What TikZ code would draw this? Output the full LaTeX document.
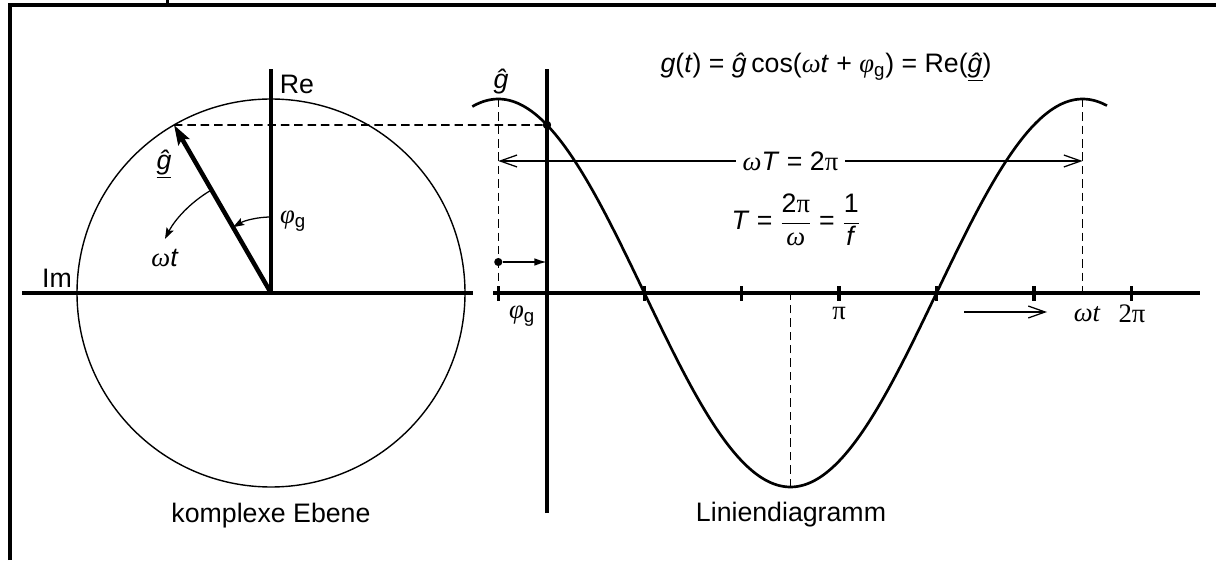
\documentclass[tikz,border=0pt]{standalone}
\usepackage{fontspec}
\setmainfont{Liberation Sans}
\newfontfamily\serifgr{Liberation Serif}
\usetikzlibrary{
    arrows.meta,
    calc
}
\newcommand{\vom}{{\serifgr\itshape ω}}
\newcommand{\vphi}{{\serifgr\itshape φ}}
\newcommand{\vphig}{\vphi\textsubscript{g}}
\newcommand{\vpi}{{\serifgr π}}

\begin{document}
\begin{tikzpicture}[
    x=0.025cm, y=0.025cm,
    line cap=butt, line join=miter,
    %% --- semantic styles ---
    frame/.style      = {draw=black, line width=3pt},
    axisline/.style   = {draw=black, line width=2.4pt},
    thinline/.style   = {draw=black, line width=1pt},
    waveline/.style   = {draw=black, line width=1.9pt},
    guide/.style      = {draw=black, line width=1.1pt, dash pattern=on 6pt off 3.5pt},
    tickmark/.style   = {draw=black, line width=2.4pt},
    phasor/.style     = {draw=black, line width=3.2pt,
                         -{Stealth[length=14pt, width=9pt, inset=2.5pt]}},
    anglearrow/.style = {draw=black, line width=0.9pt,
                         -{Stealth[length=8pt, width=5.5pt, inset=1.5pt]}},
    shiftarrow/.style = {draw=black, line width=1.3pt,
                         -{Latex[length=9pt, width=5.5pt]}},
    dimline/.style    = {draw=black, line width=0.9pt,
                         {Straight Barb[length=12pt, width=8.5pt]}-{Straight Barb[length=12pt, width=8.5pt]}},
    timearrow/.style  = {draw=black, line width=0.9pt,
                         -{Straight Barb[length=12pt, width=8.5pt]}},
    dot/.style        = {circle, fill=black, inner sep=0pt, minimum size=5.8pt},
    lbl/.style        = {inner sep=0pt, font=\fontsize{19}{22}\selectfont}
]
\useasboundingbox (0,0) rectangle (1216,560);

%% =====================================================
%% Frame (cut by the page on the right and bottom)
%% =====================================================
\draw[frame] (10.3,0) |- (1220,555);
\draw[frame, line width=2.2pt] (167.3,555) -- (167.3,562);

%% =====================================================
%% Complex plane
%% =====================================================
\coordinate (O) at (271,267);
\coordinate (P) at ($(O)+(120:194)$);

\draw[thinline] (O) circle[radius=194];
\draw[axisline] (22,267) -- (473,267);
\draw[axisline] (O) -- (271,491);

\node[lbl] (ReLbl) at (297,476) {Re};
\node[lbl] (ImLbl) at (57,282) {Im};

% rotating phasor
\draw[phasor] (O) -- (P);
\node[lbl] (gUl) at (164,396) {\underline{\textit{ĝ}}};

% angles
\draw[anglearrow] ($(O)+(90:76)$) arc[start angle=90, end angle=120, radius=76];
\node[lbl] (phiLbl) at (293,339) {\vphig};
\draw[anglearrow] ($(O)+(121:119)$) arc[start angle=121, end angle=153, radius=119];
\node[lbl] (omtLbl) at (165,302) {\vom\textit{t}};

\node[lbl, anchor=base] (ceLbl) at (271,38) {komplexe Ebene};

%% =====================================================
%% Line diagram
%% =====================================================
\coordinate (T0)  at (547,267);
\coordinate (Pk1) at (498.3,461);
\coordinate (Pk2) at (1082.6,461);
\coordinate (Tr)  at (790.5,73);

% guides
\node[dot] (D1) at (547,435) {};
\node[dot] (D2) at (498.3,298) {};
\draw[guide] (P) -- (D1);
\draw[guide] (Pk1) -- (Pk1 |- T0);
\draw[guide] (Pk2) -- (Pk2 |- T0);
\draw[guide] (Tr) -- (Tr |- T0);

% axes and ticks
\draw[axisline] (493,267) -- (1200,267);
\draw[axisline] (547,47) -- (547,491);
\foreach \k in {-30,60,120,180,240,300,360}
    \draw[tickmark] ({547+1.623*\k},259) -- ++(0,15);

% wave
\draw[waveline] plot[domain=-46:345, samples=140, smooth]
    ({547+1.623*\x},{267+194*cos(\x+30)});

\node[dot] at (D1) {};
\draw[shiftarrow] (D2) -- (D2 -| T0);

% period
\coordinate (W1) at (498.3,399);
\coordinate (W2) at (1082.6,399);
\draw[dimline] (W1) -- node[lbl, fill=white, inner xsep=5pt, inner ysep=2pt]
    (wTLbl) {\vom\textit{T} = 2\vpi} (W2);
\node[lbl] (TLbl) at (796,340)
    {\textit{T} = $\displaystyle\frac{\mbox{2\vpi}}{\mbox{\vom}}$ = $\displaystyle\frac{\mbox{1}}{\mbox{\textit{f}}}$};

% labels
\node[lbl, anchor=base] (gFormula) at (826,487)
    {\textit{g}(\textit{t}) = \textit{ĝ}\,cos(\vom\textit{t} + \vphig) = Re(\underline{\textit{ĝ}})};
\node[lbl] (gHat) at (501,478) {\textit{ĝ}};
\node[lbl] (phiAx) at (522,244) {\vphig};
\node[lbl] (piAx) at (839,246.5) {\vpi};
\node[lbl] (omtAx) at (1087,246) {{\serifgr\itshape ωt}};
\node[lbl] (twopiAx) at (1132,246) {{\serifgr 2π}};
\coordinate (A1) at (964,248);
\coordinate (A2) at (1047,248);
\draw[timearrow] (A1) -- (A2);

\node[lbl, anchor=base] (ldLbl) at (791,39) {Liniendiagramm};

\end{tikzpicture}
\end{document}
